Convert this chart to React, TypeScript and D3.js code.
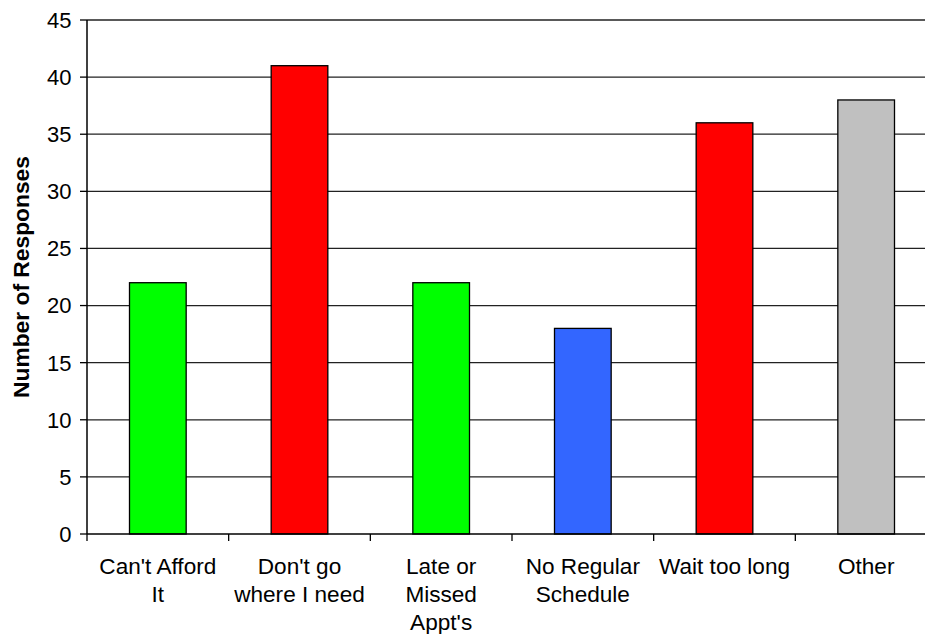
import React from "react";
import * as d3 from "d3";

const categories: string[][] = [
  ["Can't Afford", "It"],
  ["Don't go", "where I need"],
  ["Late or", "Missed", "Appt's"],
  ["No Regular", "Schedule"],
  ["Wait too long"],
  ["Other"],
];
const responses: number[] = [22, 41, 22, 18, 36, 38];
const barColors: string[] = ["#00FF00", "#FF0000", "#00FF00", "#3366FF", "#FF0000", "#C0C0C0"];
const yTicks: number[] = [0, 5, 10, 15, 20, 25, 30, 35, 40, 45];
const yTitle = "Number of Responses";

const W = 925;
const H = 634;
const left = 87;
const right = 937;
const top = 20;
const bottom = 534;
const font = "Arial, 'Liberation Sans', Helvetica, sans-serif";

export default function App() {
  const x = d3
    .scaleBand<number>()
    .domain(d3.range(categories.length))
    .range([left, right])
    .paddingInner(0)
    .paddingOuter(0);
  const y = d3.scaleLinear().domain([0, 45]).range([bottom, top]);
  const bw = x.bandwidth() * 0.4;

  return (
    <svg
      width={W}
      height={H}
      style={{ position: "absolute", left: 0, top: 0, background: "#fff" }}
      fontFamily={font}
    >
      {/* horizontal gridlines */}
      {yTicks
        .filter((t) => t > 0)
        .map((t) => (
          <line key={"g" + t} x1={left} x2={right} y1={y(t)} y2={y(t)} stroke="#222" strokeWidth={1.3} />
        ))}
      {/* bars */}
      {responses.map((v, i) => (
        <rect
          key={"b" + i}
          x={(x(i) as number) + (x.bandwidth() - bw) / 2}
          y={y(v)}
          width={bw}
          height={y(0) - y(v)}
          fill={barColors[i]}
          stroke="#000"
          strokeWidth={1.3}
        />
      ))}
      {/* y axis */}
      <line x1={left} x2={left} y1={top} y2={bottom} stroke="#000" strokeWidth={1.5} />
      {yTicks.map((t) => (
        <g key={"yt" + t}>
          <line x1={left - 7} x2={left} y1={y(t)} y2={y(t)} stroke="#000" strokeWidth={1.3} />
          <text x={71.5} y={y(t)} dy="0.36em" textAnchor="end" fontSize={22} fill="#000">
            {t}
          </text>
        </g>
      ))}
      {/* x axis */}
      <line x1={left} x2={right} y1={bottom} y2={bottom} stroke="#000" strokeWidth={1.5} />
      {d3.range(categories.length + 1).map((i) => {
        const xx = left + i * x.step();
        return <line key={"xt" + i} x1={xx} x2={xx} y1={bottom} y2={bottom + 7} stroke="#000" strokeWidth={1.3} />;
      })}
      {categories.map((lines, i) => (
        <text
          key={"xl" + i}
          x={(x(i) as number) + x.bandwidth() / 2}
          y={574}
          textAnchor="middle"
          fontSize={22.6}
          fill="#000"
        >
          {lines.map((ln, j) => (
            <tspan key={j} x={(x(i) as number) + x.bandwidth() / 2} dy={j === 0 ? 0 : 28}>
              {ln}
            </tspan>
          ))}
        </text>
      ))}
      {/* y axis title */}
      <text
        transform={`translate(28.5, ${(top + bottom) / 2}) rotate(-90)`}
        textAnchor="middle"
        fontSize={22.8}
        fontWeight="bold"
        fill="#000"
      >
        {yTitle}
      </text>
    </svg>
  );
}
